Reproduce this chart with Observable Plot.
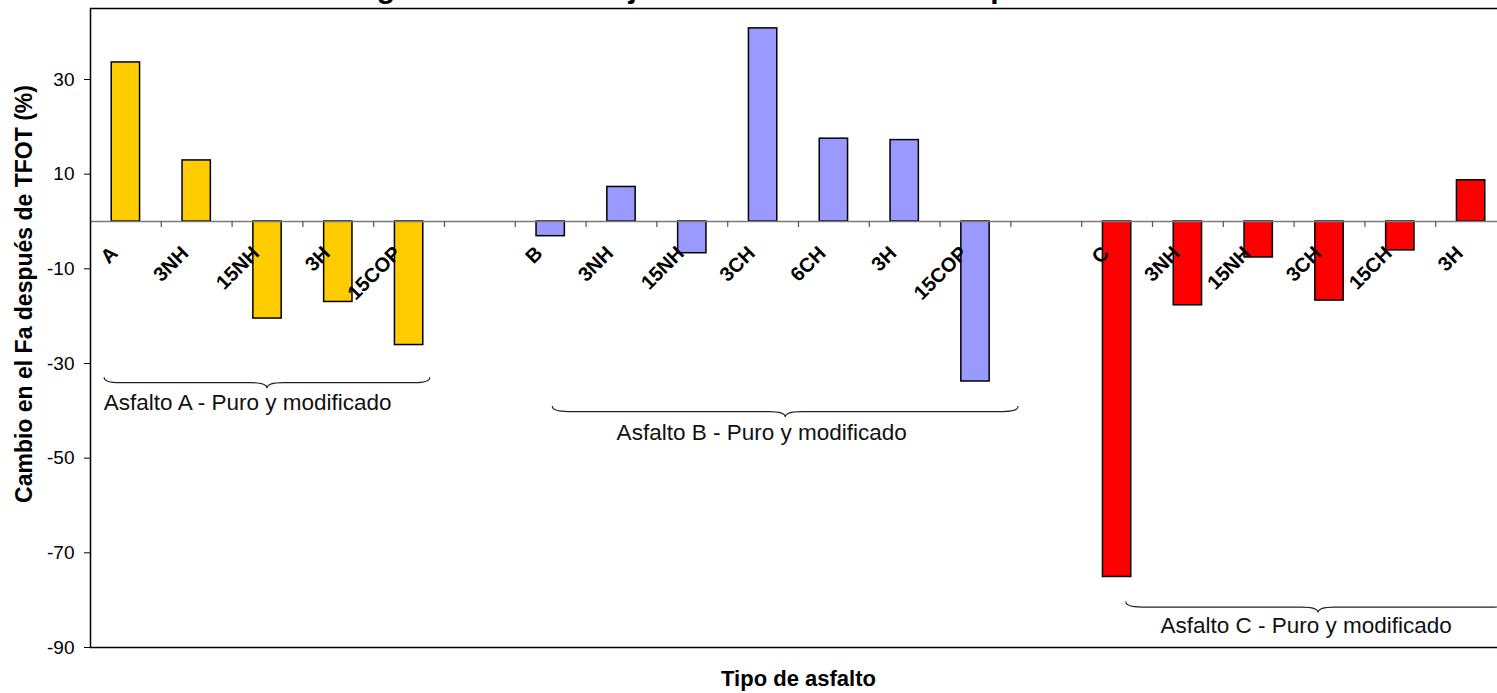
<!DOCTYPE html>
<html>
<head>
<meta charset="utf-8">
<script src="https://cdn.jsdelivr.net/npm/d3@7"></script>
<script src="https://cdn.jsdelivr.net/npm/@observablehq/plot@0.6"></script>
<style>
  html, body { margin: 0; padding: 0; background: #fff; overflow: hidden; }
  #wrap { position: relative; width: 1497px; height: 693px; overflow: hidden;
          font-family: "Liberation Sans", Arial, sans-serif; }
  #title { position: absolute; left: 350px; top: -27px; margin: 0; white-space: nowrap;
           font-size: 30px; line-height: 30px; font-weight: bold; color: #000; }
  #chart { position: absolute; left: 0; top: 0; }
</style>
</head>
<body>
<div id="wrap">
  <div id="chart"></div>
  <h1 id="title">Figura 4.8 Porcentaje de cambio en el Fa después de TFOT</h1>
</div>
<script>
// Asphalt groups and the change in Fa (%) after TFOT for each binder
const groups = ["Asfalto A", "Asfalto B", "Asfalto C"];
const groupColors = ["#FFCC00", "#9999FF", "#FF0000"];

const labelsA = ["A", "3NH", "15NH", "3H", "15COP"];
const valuesA = [33.6, 12.9, -20.5, -17.0, -26.1];

const labelsB = ["B", "3NH", "15NH", "3CH", "6CH", "3H", "15COP"];
const valuesB = [-3.1, 7.3, -6.7, 40.8, 17.5, 17.2, -33.8];

const labelsC = ["C", "3NH", "15NH", "3CH", "15CH", "3H"];
const valuesC = [-75.1, -17.7, -7.6, -16.7, -6.1, 8.7];

const yTicks = [-90, -70, -50, -30, -10, 10, 30];

// Group brackets: span in category slots, vertical level in %, caption
const braceText = ["Asfalto A - Puro y modificado", "Asfalto B - Puro y modificado", "Asfalto C - Puro y modificado"];
const braceFrom = [0.2, 6.53, 14.63];
const braceTo = [4.8, 13.11, 20.06];
const braceY = [-33.0, -39.1, -80.4];
const braceLabelX = [2.22, 9.48, 17.17];
const braceLabelY = [-39.8, -46.2, -87.0];

const yTitle = "Cambio en el Fa después de TFOT (%)";
const xTitle = "Tipo de asfalto";

// One slot per binder, with an empty slot between groups
const rows = [];
let slot = 0;
[[labelsA, valuesA], [labelsB, valuesB], [labelsC, valuesC]].forEach(([labs, vals], g) => {
  labs.forEach((lab, i) => rows.push({slot: slot + i, label: lab, value: vals[i], group: groups[g]}));
  slot += labs.length + 1;
});
const slotCount = slot - 1;
const boundaries = d3.range(1, slotCount + 1);

const braceRows = braceText.map((t, i) => ({text: t, x: braceLabelX[i], y: braceLabelY[i]}));

// Curly brackets under each group, drawn through the plot's scales
function braces(index, {x, y}) {
  const g = d3.create("svg:g").attr("fill", "none").attr("stroke", "#222").attr("stroke-width", 1.2);
  braceFrom.forEach((from, i) => {
    const xl = x(from), xr = x(braceTo[i]), xm = (xl + xr) / 2;
    const y0 = y(braceY[i]), h = 11, r = 16;
    const ym = y0 + h / 2, yt = y0 + h;
    g.append("path").attr("d",
      `M${xl},${y0} Q${xl},${ym} ${xl + r},${ym} L${xm - r},${ym} Q${xm},${ym} ${xm},${yt} ` +
      `Q${xm},${ym} ${xm + r},${ym} L${xr - r},${ym} Q${xr},${ym} ${xr},${y0}`);
  });
  return g.node();
}

const half = 0.2; // half bar width, in slots

const chart = Plot.plot({
  width: 1497,
  height: 693,
  marginTop: 8,
  marginBottom: 46,
  marginLeft: 90,
  marginRight: -9,
  style: {fontFamily: "'Liberation Sans', Arial, sans-serif", color: "#000", background: "#fff", overflow: "visible"},
  x: {type: "linear", domain: [0, slotCount], axis: null},
  y: {domain: [-90, 45], axis: null},
  color: {domain: groups, range: groupColors},
  marks: [
    Plot.rectY(rows, {
      x1: d => d.slot + 0.5 - half,
      x2: d => d.slot + 0.5 + half,
      y1: 0,
      y2: "value",
      fill: "group",
      stroke: "#000",
      strokeWidth: 1.5
    }),
    Plot.ruleY([0], {stroke: "#7a7a7a", strokeWidth: 1.5}),
    Plot.ruleX(boundaries, {x: d => d, y1: 0, y2: 0, insetBottom: -6, stroke: "#555", strokeWidth: 1.2}),
    Plot.text(rows, {
      x: d => d.slot + 0.5,
      y: 0,
      text: "label",
      rotate: -45,
      textAnchor: "end",
      lineAnchor: "bottom",
      dx: -7,
      dy: 33,
      fontWeight: "bold",
      fontSize: 20,
      fill: "#000"
    }),
    braces,
    Plot.text(braceRows, {
      x: "x", y: "y", text: "text",
      lineAnchor: "bottom", fontSize: 22.5, fill: "#111"
    }),
    Plot.axisY(yTicks, {tickSize: 6, tickPadding: 10, fontSize: 19, label: null, stroke: "#000",
                        tickFormat: d => String(d)}),
    Plot.frame({stroke: "#000", strokeWidth: 1.5}),
    Plot.text([yTitle], {
      frameAnchor: "left", rotate: -90, dx: -59, dy: -34,
      textAnchor: "middle", lineAnchor: "bottom",
      fontWeight: "bold", fontSize: 23, fill: "#000"
    }),
    Plot.text([xTitle], {
      frameAnchor: "bottom", dy: 38, lineAnchor: "bottom",
      fontWeight: "bold", fontSize: 22, fill: "#000"
    })
  ]
});

document.getElementById("chart").appendChild(chart);
</script>
</body>
</html>
